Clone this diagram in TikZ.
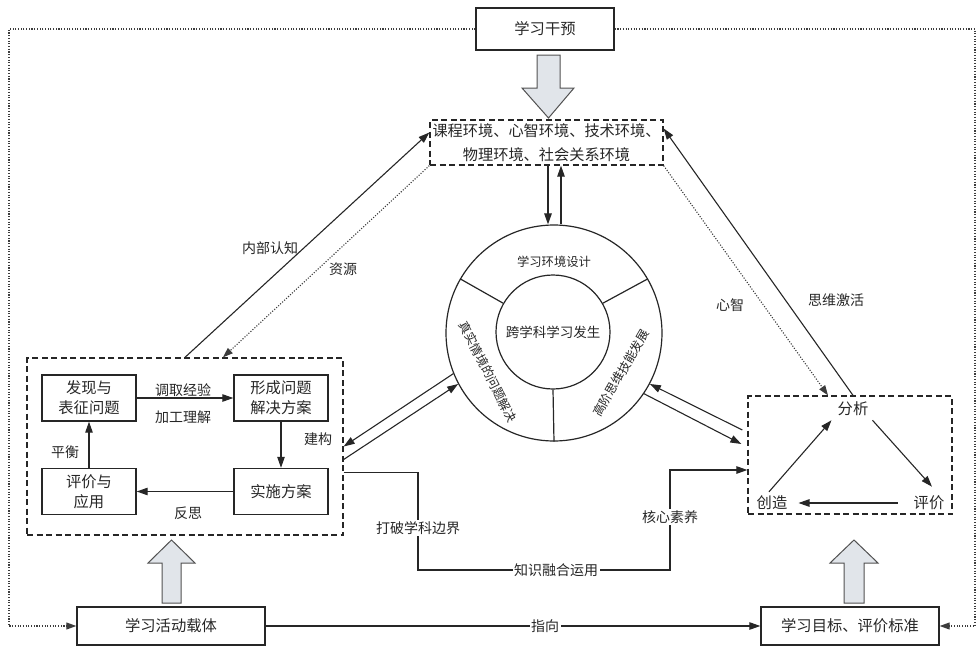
\documentclass[tikz,border=0pt]{standalone}
\usepackage{fontspec}
\setmainfont{Noto Sans CJK SC}
\usetikzlibrary{arrows.meta,calc}
\definecolor{ink}{HTML}{262626}
\definecolor{blockfill}{HTML}{E1E5EA}
\begin{document}
\begin{tikzpicture}[x=1pt,y=-1pt,
  txt/.style={font=\fontsize{15.3}{20}\selectfont, text=ink},
  box/.style={txt, draw=ink, line width=1.4pt, align=center, inner sep=2pt},
  sbox/.style={box, minimum width=94pt, minimum height=46pt},
  dbox/.style={draw=ink, line width=1.3pt, dash pattern=on 6pt off 3.5pt, inner sep=0pt},
  lbl/.style={font=\fontsize{14}{16}\selectfont, text=ink, inner sep=1.5pt},
  seg/.style={font=\fontsize{12.3}{15}\selectfont, text=ink, inner sep=0pt},
  arr/.style={draw=ink, line width=1.1pt, -{Triangle[length=11pt,width=7.5pt]}},
  dots/.style={draw=ink!90, line width=1.1pt, dash pattern=on 1.1pt off 1.6pt},
  darr/.style={dots, -{Triangle[length=10pt,width=7pt]}},
  barrow/.style={draw=ink!80, line width=1pt, fill=blockfill, line join=miter}
]
\useasboundingbox (0,0) rectangle (978,648);

% top / bottom boxes
\node[box, minimum width=138pt, minimum height=42pt] (iv) at (545,29) {学习干预};
\node[box, minimum width=188pt, minimum height=38pt] (car) at (171,626) {学习活动载体};
\node[box, minimum width=178pt, minimum height=38pt] (goal) at (850,626) {学习目标、评价标准};

% outer dotted loop
\draw[darr] (iv.west) -- (9,29) |- (car.west);
\draw[darr] (iv.east) -- (975,29) |- (goal.east);
\draw[arr] (car.east) -- (goal.west);
\node[lbl, fill=white] (zx) at (545,626) {指向};

% block arrows
\draw[barrow] (537,55) -- (560,55) -- (560,88) -- (574,88) -- (548.5,118) -- (522,88) -- (537,88) -- cycle;
\draw[barrow] (162,603) -- (181,603) -- (181,563) -- (195,563) -- (171.5,540) -- (148,563) -- (162,563) -- cycle;
\draw[barrow] (844,603) -- (864,603) -- (864,563) -- (878,563) -- (854,540) -- (830,563) -- (844,563) -- cycle;

% environment box
\node[dbox, minimum width=233pt, minimum height=45pt, align=center,
      font=\fontsize{15.2}{23.5}\selectfont, text=ink] (env) at (546.5,142.5)
      {课程环境、心智环境、技术环境、\\物理环境、社会关系环境};

% ring
\node[circle, draw=ink, line width=1.2pt, minimum size=216pt, inner sep=0pt] (ring) at (554,333) {};
\node[circle, draw=ink, line width=1.2pt, minimum size=114pt, inner sep=0pt,
      font=\fontsize{13.5}{16}\selectfont, text=ink] (core) at (553,332) {跨学科学习发生};
\draw[ink, line width=1.2pt] (core.150) -- (ring.150);
\draw[ink, line width=1.2pt] (core.30) -- (ring.30);
\draw[ink, line width=1.2pt] (core.270) -- (ring.270);
\node[seg] (s1) at (554,262) {学习环境设计};
\node[seg, rotate=-63] (s2) at (488,372) {真实情境的问题解决};
\node[seg, rotate=60] (s3) at (621,373) {高阶思维技能发展};

% env <-> ring
\coordinate (vd) at (548,0);
\coordinate (vu) at (561,0);
\draw[arr] (vd |- env.south) -- (vd |- ring.north);
\draw[arr] (vu |- ring.north) -- (vu |- env.south);

% left group
\node[dbox, minimum width=316pt, minimum height=177pt] (lgrp) at (185,446.5) {};
\node[sbox] (fx) at (89,398) {发现与\\表征问题};
\node[sbox] (xc) at (281,398) {形成问题\\解决方案};
\node[sbox] (py) at (89,491.5) {评价与\\应用};
\node[sbox] (ss) at (281,491.5) {实施方案};
\draw[arr] (fx) -- (xc);
\draw[arr] (xc) -- (ss);
\draw[arr] (ss) -- (py);
\draw[arr] (py) -- (fx);
\node[lbl] (l1) at (183,390) {调取经验};
\node[lbl] (l2) at (183,417) {加工理解};
\node[lbl] (l3) at (318,439) {建构};
\node[lbl] (l4) at (188,513) {反思};
\node[lbl] (l5) at (65,452) {平衡};

% right group
\node[dbox, minimum width=204pt, minimum height=118pt] (rgrp) at (850,455) {};
\node[txt, inner sep=2pt] (an) at (853,409) {分析};
\node[txt, inner sep=2pt] (cz) at (772,503) {创造};
\node[txt, inner sep=2pt] (pj) at (929,503) {评价};
\draw[arr] ([xshift=-3pt,yshift=2pt]cz.north) -- ([xshift=-4pt,yshift=-2pt]an.south west);
\draw[arr] ([xshift=2pt,yshift=-2pt]an.south east) -- ([xshift=3pt,yshift=7pt]pj.north);
\draw[arr] ([xshift=-14pt]pj.west) -- ([xshift=9pt]cz.east);

% left group <-> env
\draw[arr] (lgrp.north) -- ([yshift=10pt]env.west);
\draw[darr] (env.south west) -- ([xshift=38pt]lgrp.north);
\node[lbl] (nb) at (270,248) {内部认知};
\node[lbl] (zy) at (343,269) {资源};

% right group <-> env
\draw[arr] ([xshift=3pt]rgrp.north) -- ([yshift=14pt]env.east);
\draw[darr] (env.south east) -- ([xshift=-22pt]rgrp.north);
\node[lbl] (xz) at (730,305) {心智};
\node[lbl] (sw) at (836,300) {思维激活};

% ring <-> groups
\draw[arr] (ring.202) -- (lgrp.east);
\draw[arr] ([yshift=-13pt]lgrp.east) -- (ring.208);
\draw[arr] ([xshift=-5pt,yshift=25pt]rgrp.west) -- (ring.332);
\draw[arr] (ring.326) -- ([xshift=-6pt,yshift=11pt]rgrp.west);

% bottom link
\draw[arr] ([yshift=-26pt]lgrp.east) -- (418,472.5) |- (670,570) |- ([yshift=-15pt]rgrp.west);
\node[lbl, fill=white] (db) at (418,528) {打破学科边界};
\node[lbl, fill=white] (zs) at (556,570) {知识融合运用};
\node[lbl, fill=white] (hx) at (670,517) {核心素养};
\end{tikzpicture}
\end{document}
